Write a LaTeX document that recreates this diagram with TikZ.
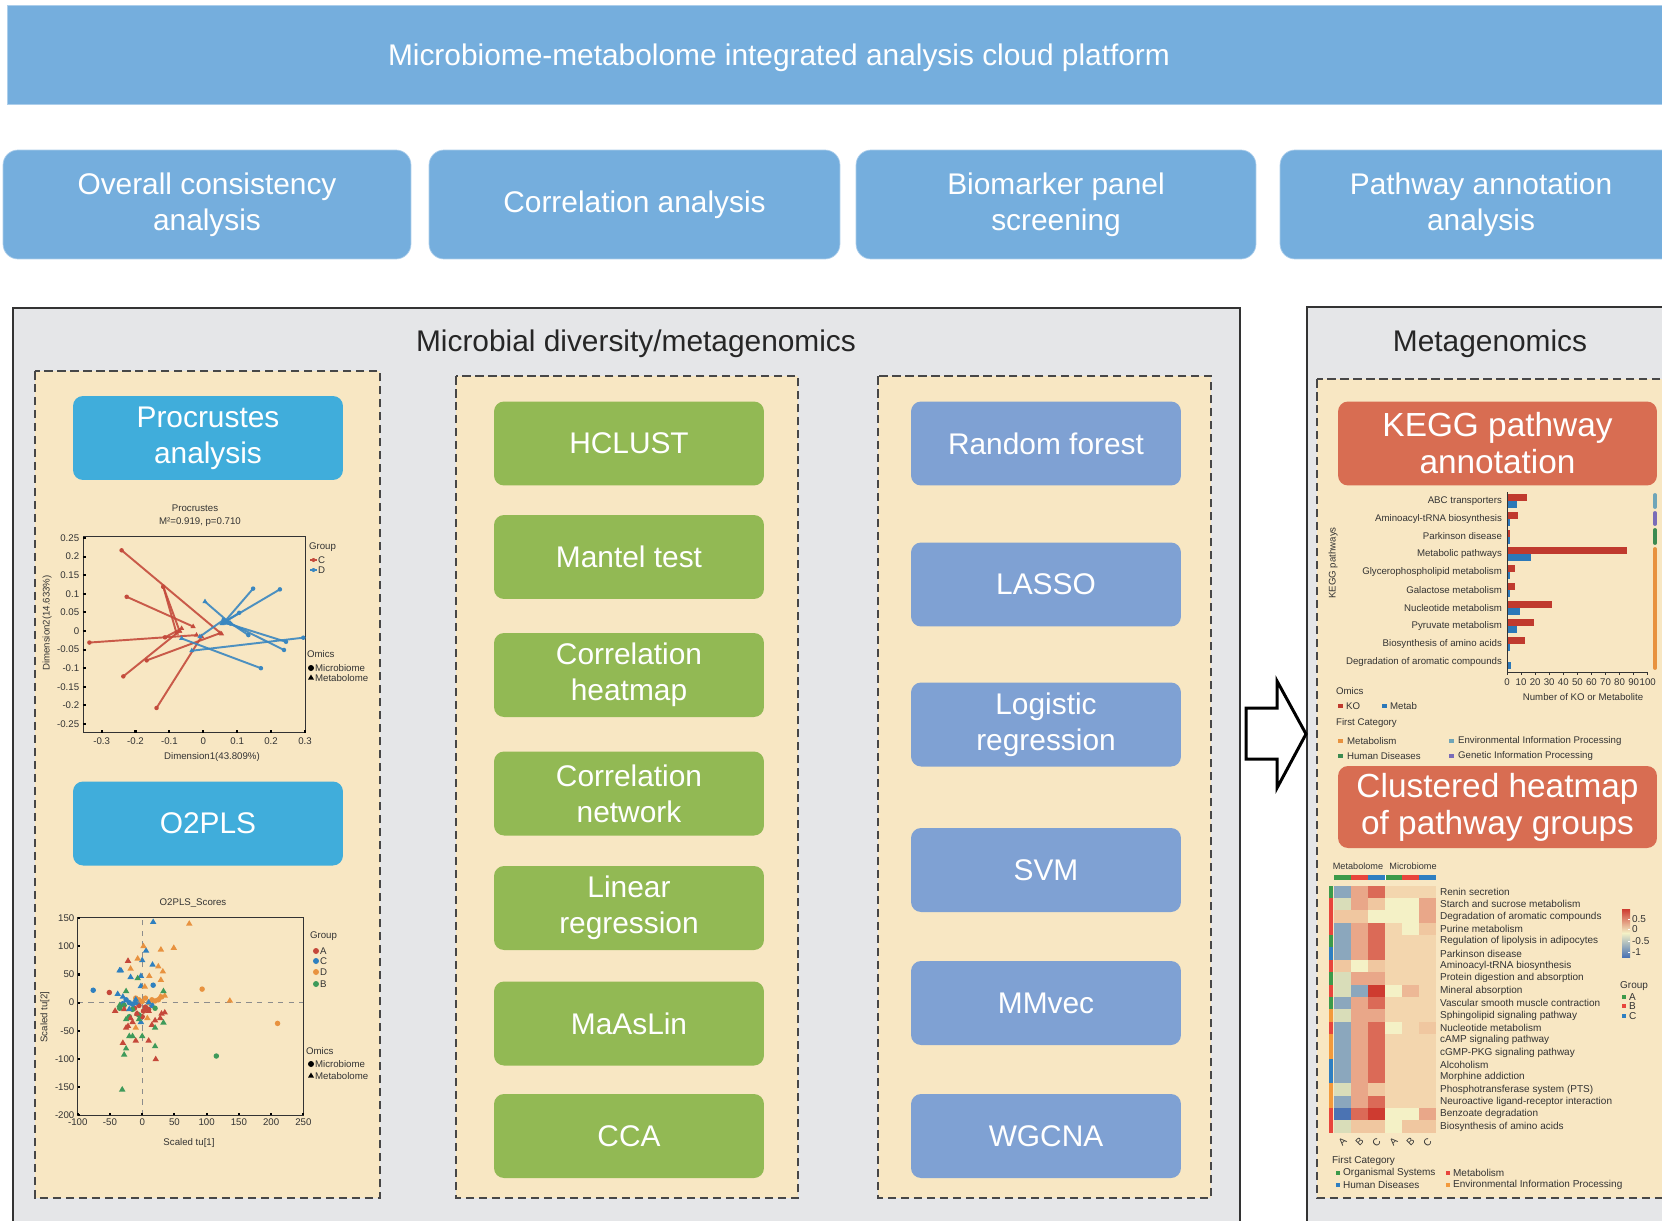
\documentclass[tikz,border=0pt]{standalone}
\usepackage{fontspec}
\setmainfont{Liberation Sans}

\definecolor{skyblue}{HTML}{75AEDD}
\definecolor{panelgray}{HTML}{E5E6E8}
\definecolor{panelline}{HTML}{333333}
\definecolor{sand}{HTML}{F8E7C3}
\definecolor{cyanbox}{HTML}{40ADDB}
\definecolor{leaf}{HTML}{92B954}
\definecolor{lavender}{HTML}{7FA1D3}
\definecolor{brick}{HTML}{D86D52}
\definecolor{plottext}{HTML}{333333}
\definecolor{pC}{HTML}{C44B3C}
\definecolor{pD}{HTML}{3A87C0}
\definecolor{oA}{HTML}{C5483A}
\definecolor{oB}{HTML}{3E9A5A}
\definecolor{oC}{HTML}{2F80BF}
\definecolor{oD}{HTML}{E8923F}
\definecolor{ko}{HTML}{C03A2E}
\definecolor{metab}{HTML}{2C78B8}
\definecolor{kmet}{HTML}{E8923F}
\definecolor{kenv}{HTML}{6FA5B8}
\definecolor{khum}{HTML}{3C8A50}
\definecolor{kgen}{HTML}{7A6CB8}
\definecolor{catog}{HTML}{3C9A4A}
\definecolor{catme}{HTML}{E8453C}
\definecolor{cathd}{HTML}{2F7FC1}
\definecolor{caten}{HTML}{F39A3C}
\definecolor{hmb}{HTML}{8BA7BD}
\definecolor{hmB}{HTML}{4B73B3}
\definecolor{hmg}{HTML}{D9DDB9}
\definecolor{hmy}{HTML}{F4F1C6}
\definecolor{hmp}{HTML}{F0C7A0}
\definecolor{hmq}{HTML}{E9A789}
\definecolor{hmr}{HTML}{DB6A57}
\definecolor{hmR}{HTML}{CE3B30}
\definecolor{hmn}{HTML}{F3D6AE}
\definecolor{hms}{HTML}{EDB896}

\begin{document}
\begin{tikzpicture}[x=0.02cm, y=-0.02cm,
    tile/.style={rounded corners=0.2cm, inner sep=0pt, text=white, align=center,
                 minimum width=5.4cm, minimum height=1.68cm, font=\fontsize{17}{20.5}\selectfont},
    toptile/.style={tile, fill=skyblue, draw=skyblue!60!white, rounded corners=0.3cm, minimum height=2.18cm},
    cyantile/.style={tile, fill=cyanbox},
    greentile/.style={tile, fill=leaf},
    lavtile/.style={tile, fill=lavender},
    bricktile/.style={tile, fill=brick, minimum width=6.38cm, font=\fontsize{19}{21}\selectfont},
    panel/.style={fill=panelgray, draw=panelline, line width=1.6pt},
    column/.style={fill=sand, draw=panelline!90, line width=1.5pt, dash pattern=on 0.17cm off 0.09cm},
    heading/.style={font=\fontsize{17}{20}\selectfont, text=black!85},
    tiny/.style={font=\fontsize{5.5}{6.5}\selectfont, text=plottext, inner sep=1pt},
    hmtext/.style={font=\fontsize{5.7}{6.5}\selectfont, text=plottext, inner sep=1pt},
    axisline/.style={draw=black!80, line width=0.5pt}]
\clip (0,0) rectangle (1662,1220);
\fill[white] (0,0) rectangle (1662,1220);

\node[toptile, rounded corners=0pt, minimum width=33.46cm, minimum height=1.98cm] (platform) at (843.5,54.5) {};
\node[heading, text=white] (platformtext) at (779,58) {Microbiome-metabolome integrated analysis cloud platform};

\node[toptile, minimum width=8.16cm] (overall) at (207,204.5) {Overall consistency\\analysis};
\node[toptile, minimum width=8.22cm] (correlation) at (634.5,204.5) {Correlation analysis};
\node[toptile, minimum width=8cm] (biomarker) at (1056,204.5) {Biomarker panel\\screening};
\node[toptile, minimum width=8.04cm] (pathway) at (1481,204.5) {Pathway annotation\\analysis};

\draw[panel] (13,308) rectangle (1240,1240);
\draw[panel] (1307,307) rectangle (1690,1240);
\node[heading] (microtitle) at (636,344) {Microbial diversity/metagenomics};
\node[heading] (metatitle) at (1490,344) {Metagenomics};

\draw[column] (35,371) rectangle (380,1198);
\draw[column] (456,376) rectangle (798,1198);
\draw[column] (878,376) rectangle (1211,1198);
\draw[column] (1317,379) rectangle (1690,1198);

\node[cyantile] (procrustes) at (208,438) {Procrustes\\analysis};
\node[cyantile] (otwopls) at (208,823.5) {O2PLS};

\node[greentile] (hclust) at (629,443.5) {HCLUST};
\node[greentile] (mantel) at (629,557) {Mantel test};
\node[greentile] (corrheat) at (629,675) {Correlation\\heatmap};
\node[greentile] (corrnet) at (629,793.5) {Correlation\\network};
\node[greentile] (linreg) at (629,908) {Linear\\regression};
\node[greentile] (maaslin) at (629,1023.5) {MaAsLin};
\node[greentile] (cca) at (629,1136) {CCA};

\node[lavtile] (forest) at (1046,443.5) {Random forest};
\node[lavtile] (lasso) at (1046,584.5) {LASSO};
\node[lavtile] (logistic) at (1046,724.5) {Logistic\\regression};
\node[lavtile] (svm) at (1046,870) {SVM};
\node[lavtile] (mmvec) at (1046,1003) {MMvec};
\node[lavtile] (wgcna) at (1046,1136) {WGCNA};

\node[bricktile] (kegg) at (1497.5,443.5) {KEGG pathway\\annotation};
\node[bricktile, minimum height=1.64cm] (clustheat) at (1497.5,807) {Clustered heatmap\\of pathway groups};

\draw[fill=white, line width=1.7pt, line join=miter] (1246,708) -- (1277,708) -- (1277,681) -- (1306,734)
  -- (1277,788) -- (1277,759) -- (1246,759) -- cycle;

% Procrustes
\node[tiny] (prtitle) at (195,508) {Procrustes};
\node[tiny] (prstat) at (200,522) {M²=0.919, p=0.710};
\begin{scope}[shift={(203.3,631)}, x=6.78cm, y=7.44cm]
  \draw[axisline] (-0.355,-0.274) rectangle (0.3,0.253);
  \foreach \v [count=\k] in {0.25,0.2,0.15,0.1,0.05,0,-0.05,-0.1,-0.15,-0.2,-0.25} {
    \draw[line width=1.2pt] (-0.355,\v) -- ++(0.008,0);
    \node[tiny, anchor=east] (pry\k) at (-0.36,\v) {\v};}
  \foreach \v [count=\k] in {-0.3,-0.2,-0.1,0,0.1,0.2,0.3} {
    \draw[line width=1.2pt] (\v,-0.274) -- ++(0,0.008);
    \node[tiny, anchor=north] (prx\k) at (\v,-0.28) {\v};}
  \foreach \ax/\ay/\bx/\by/\c in {
    -0.241/0.217/0.054/-0.008/pC, -0.118/0.119/-0.079/-0.006/pC, -0.226/0.092/-0.030/0.012/pC,
    -0.336/-0.031/-0.020/-0.011/pC, -0.236/-0.122/-0.070/0.000/pC, -0.167/-0.079/0.049/-0.006/pC,
    -0.138/-0.207/-0.005/-0.015/pC, -0.113/-0.017/-0.064/0.007/pC, -0.118/0.119/-0.070/0.000/pC,
    0.147/0.114/0.059/0.021/pD, 0.226/0.112/0.064/0.025/pD, 0.106/0.049/0.055/0.020/pD,
    0.295/-0.018/-0.034/-0.053/pD, 0.244/-0.029/0.069/0.021/pD, 0.238/-0.051/0.079/0.021/pD,
    0.133/-0.011/0.074/0.025/pD, 0.170/-0.100/-0.064/-0.020/pD, 0.080/0.020/0.005/0.079/pD,
    0.060/0.030/-0.010/-0.015/pD} {
    \draw[\c, line width=1.1pt, opacity=0.9] (\ax,\ay) -- (\bx,\by);
    \fill[\c] (\ax,\ay) circle (0.045cm);
    \fill[\c] (\bx,\by) ++(0,0.06cm) -- ++(-0.052cm,-0.09cm) -- ++(0.104cm,0) -- cycle;}
\end{scope}
\node[tiny, rotate=90] (prylab) at (47,623) {Dimension2(14.633\%)};
\node[tiny] (prxlab) at (212,757) {Dimension1(43.809\%)};
\node[tiny, anchor=west] (prgroup) at (307,547) {Group};
\draw[pC, line width=1pt] (310,560) -- (317,560); \fill[pC] (313.5,560) circle (0.04cm);
\node[tiny, anchor=west] (prc) at (316,560) {C};
\draw[pD, line width=1pt] (310,570) -- (317,570); \fill[pD] (313.5,570) circle (0.04cm);
\node[tiny, anchor=west] (prd) at (316,570) {D};
\node[tiny, anchor=west] (promics) at (305,654) {Omics};
\fill[black] (311,668) circle (0.06cm);
\node[tiny, anchor=west] (prmic) at (313,668) {Microbiome};
\fill[black] (311,678) ++(0,0.07cm) -- ++(-0.06cm,-0.1cm) -- ++(0.12cm,0) -- cycle;
\node[tiny, anchor=west] (prmet) at (313,678) {Metabolome};

% O2PLS
\node[tiny] (optitle) at (193,903) {O2PLS\_Scores};
\begin{scope}[shift={(142.2,1002.6)}, x=0.0129cm, y=0.01124cm]
  \draw[black!45, dashed, line width=0.6pt] (0,-200) -- (0,152) (-100,0) -- (250,0);
  \draw[axisline] (-100,-200) rectangle (250,152);
  \foreach \v [count=\k] in {150,100,50,0,-50,-100,-150,-200} {
    \draw[line width=1.2pt] (-100,\v) -- ++(3,0);
    \node[tiny, anchor=east] (opy\k) at (-102,\v) {\v};}
  \foreach \v [count=\k] in {-100,-50,0,50,100,150,200,250} {
    \draw[line width=1.2pt] (\v,-200) -- ++(0,3);
    \node[tiny, anchor=north] (opx\k) at (\v,-203) {\v};}
  \foreach \px/\py/\c in {
    -51/18/oA, -5/-5/oA, 2/-15/oA, -8/-20/oA, 5/-8/oA, 0/-25/oA, 10/-12/oA, -12/-10/oA,
    -76/22/oC, -30/-2/oC, -20/0/oC, -10/0/oC, -25/5/oC, -15/-3/oC, -5/3/oC, 15/-5/oC, 17/31/oC,
    93/24/oD, 210/-37/oD, -5/5/oD, 5/8/oD, 15/5/oD, 25/5/oD, 30/10/oD, 20/3/oD, -10/8/oD, 0/2/oD, 10/0/oD,
    115/-95/oB, -35/-10/oB, -28/-5/oB, -15/-12/oB, -5/-22/oB, 20/-10/oB, -20/-25/oB}
    \fill[\c] (\px,\py) circle (0.055cm);
  \foreach \px/\py/\c in {
    -22/74/oA, -42/-15/oA, -28/-12/oA, -18/-28/oA, -22/-42/oA, -15/-35/oA, -8/-20/oA, 10/-15/oA,
    -30/-72/oA, -10/-68/oA, 10/-68/oA, 21/-101/oA, 20/-32/oA, 28/-28/oA, 30/-20/oA, 35/-18/oA,
    -25/-45/oA, 5/-12/oA, 15/-40/oA,
    17/143/oC, 6/92/oC, 0/75/oC, -35/57/oC, -33/57/oC, -18/45/oC, 16/67/oC, -2/47/oC, -2/29/oC,
    -38/15/oC, -30/10/oC, -20/-12/oC, -2/-35/oC, 10/0/oC, -10/5/oC,
    73/140/oD, 49/97/oD, 29/94/oD, 2/100/oD, -7/78/oD, -18/60/oD, 25/64/oD, 32/55/oD, 11/47/oD,
    29/40/oD, 4/28/oD, 136/3/oD, 28/10/oD, 35/12/oD, -10/-45/oD, 8/-28/oD,
    -31/-155/oB, -28/-93/oB, -25/-82/oB, -20/-60/oB, -15/-60/oB, 0/-60/oB, 20/-78/oB, 33/-36/oB,
    20/-45/oB, 33/20/oB, -25/20/oB, -7/43/oB, -35/-5/oB, -25/-30/oB, -5/-30/oB}
    \fill[\c] (\px,\py) ++(0,0.075cm) -- ++(-0.065cm,-0.11cm) -- ++(0.13cm,0) -- cycle;
\end{scope}
\node[tiny, rotate=90] (opylab) at (45,1017) {Scaled tu[2]};
\node[tiny] (opxlab) at (189,1143) {Scaled tu[1]};
\node[tiny, anchor=west] (opgroup) at (308,936) {Group};
\foreach \g/\c/\yy in {A/oA/951, C/oC/961, D/oD/972, B/oB/984} {
  \fill[\c] (316,\yy) circle (0.06cm);
  \node[tiny, anchor=west] (opg\g) at (318,\yy) {\g};}
\node[tiny, anchor=west] (opomics) at (304,1051) {Omics};
\fill[black] (311,1064) circle (0.06cm);
\node[tiny, anchor=west] (opmic) at (313,1064) {Microbiome};
\fill[black] (311,1076) ++(0,0.07cm) -- ++(-0.06cm,-0.1cm) -- ++(0.12cm,0) -- cycle;
\node[tiny, anchor=west] (opmet) at (313,1076) {Metabolome};

% KEGG bars
\foreach \lab/\k/\m [count=\i from 0] in {ABC transporters/14/7, Aminoacyl-tRNA biosynthesis/8/2,
    Parkinson disease/2/2, Metabolic pathways/85/17, Glycerophospholipid metabolism/6/2,
    Galactose metabolism/6/2, Nucleotide metabolism/32/9, Pyruvate metabolism/19/7,
    Biosynthesis of amino acids/13/2, Degradation of aromatic compounds/1/3} {
  \pgfmathsetmacro\yy{500.7+17.9*\i}
  \fill[ko] (1507,\yy-7) rectangle (1507+1.407*\k,\yy);
  \fill[metab] (1507,\yy) rectangle (1507+1.407*\m,\yy+7);
  \node[tiny, anchor=east] (kpath\i) at (1504,\yy) {\lab};}
\draw[axisline] (1507,492) -- (1507,672) -- (1648,672);
\foreach \t [count=\k] in {0,10,...,100} {
  \draw[axisline] (1507+1.407*\t,672) -- ++(0,2.5);
  \node[tiny] (kx\k) at (1507+1.407*\t,682) {\t};}
\node[tiny] (kxlab) at (1583,697) {Number of KO or Metabolite};
\node[tiny, rotate=90] (kylab) at (1333,563) {KEGG pathways};
\foreach \c/\ya/\yb in {kenv/495/507, kgen/513/524, khum/530/543, kmet/549/668}
  \draw[\c, line width=2.2pt, line cap=round] (1655,\ya) -- (1655,\yb);
\node[tiny, anchor=west] (komics) at (1334,691) {Omics};
\fill[ko] (1338,704) rectangle (1343,708);
\node[tiny, anchor=west] (kko) at (1344,706) {KO};
\fill[metab] (1382,704) rectangle (1387,708);
\node[tiny, anchor=west] (kmetab) at (1388,706) {Metab};
\node[tiny, anchor=west] (kfirst) at (1334,723) {First Category};
\foreach \c/\xx/\yy/\lab [count=\i] in {kmet/1338/741/Metabolism, kenv/1449/741/Environmental Information Processing,
    khum/1338/756/Human Diseases, kgen/1449/756/Genetic Information Processing} {
  \fill[\c] (\xx,\yy-2) rectangle (\xx+5,\yy+2);
  \node[tiny, anchor=west] (kcat\i) at (\xx+7,\yy) {\lab};}

% clustered heatmap
\node[hmtext, font=\fontsize{5.2}{6}\selectfont] (hmmetab) at (1358,866) {Metabolome};
\node[hmtext, font=\fontsize{5.2}{6}\selectfont] (hmmicro) at (1413,866) {Microbiome};
\foreach \c [count=\j from 0] in {og,me,hd,og,me,hd}
  \fill[cat\c] (1334+17*\j,875) rectangle ++(17,5);
\foreach \row [count=\i from 0] in {{b,q,r,n,n,n},{g,q,p,y,y,q},{p,p,y,y,y,q},{b,q,r,n,y,p},
    {b,q,r,n,n,n},{b,q,r,n,n,n},{p,y,p,n,n,n},{g,q,q,n,n,n},{g,b,R,y,s,n},{b,q,r,n,n,n},
    {g,q,q,n,n,n},{b,q,r,y,n,p},{b,q,r,n,n,n},{b,q,r,n,n,n},{b,q,r,n,n,n},{b,q,r,n,n,n},
    {g,q,p,n,n,n},{b,q,r,n,n,n},{B,r,R,y,y,q},{g,p,p,y,p,p}}
  \foreach \c [count=\j from 0] in \row
    \fill[hm\c] (1334+17*\j,885.7+12.35*\i) rectangle ++(17,12.35);
\draw[white, line width=0.4pt] (1385,875) -- (1385,880);
\foreach \c/\lab [count=\i from 0] in {og/Renin secretion, me/Starch and sucrose metabolism,
    me/Degradation of aromatic compounds, me/Purine metabolism, og/Regulation of lipolysis in adipocytes,
    hd/Parkinson disease, me/Aminoacyl-tRNA biosynthesis, og/Protein digestion and absorption,
    me/Mineral absorption, og/Vascular smooth muscle contraction, en/Sphingolipid signaling pathway,
    me/Nucleotide metabolism, en/cAMP signaling pathway, en/cGMP-PKG signaling pathway,
    hd/Alcoholism, hd/Morphine addiction, en/Phosphotransferase system (PTS),
    en/Neuroactive ligand-receptor interaction, me/Benzoate degradation, me/Biosynthesis of amino acids} {
  \fill[cat\c] (1329,885.7+12.35*\i) rectangle ++(4,12.35);
  \node[hmtext, anchor=west] (hmrow\i) at (1438,891.9+12.35*\i) {\lab};}
\foreach \l [count=\j from 0] in {A,B,C,A,B,C}
  \node[hmtext, rotate=45] (hmcol\j) at (1342.5+17*\j,1142) {\l};
\shade[top color=hmR, bottom color=hmB, middle color=hmy] (1622,909) rectangle (1630,957);
\foreach \v/\yy [count=\k] in {0.5/919, 0/929, -0.5/941, -1/952} {
  \draw[white, line width=0.4pt] (1628,\yy) -- (1630,\yy);
  \node[hmtext, anchor=west] (hmkey\k) at (1630,\yy) {\v};}
\node[hmtext, anchor=west] (hmgroup) at (1618,986) {Group};
\foreach \g/\c/\yy in {A/og/997, B/me/1006, C/hd/1016} {
  \fill[cat\c] (1622,\yy-2) rectangle (1626,\yy+2);
  \node[hmtext, anchor=west] (hmg\g) at (1627,\yy) {\g};}
\node[hmtext, anchor=west] (hmfirst) at (1330,1161) {First Category};
\foreach \c/\xx/\yy/\lab [count=\i] in {og/1336/1173/Organismal Systems, me/1446/1173/Metabolism,
    hd/1336/1185/Human Diseases, en/1446/1185/Environmental Information Processing} {
  \fill[cat\c] (\xx,\yy-2) rectangle (\xx+4,\yy+2);
  \node[hmtext, anchor=west] (hmcat\i) at (\xx+5,\yy) {\lab};}
\end{tikzpicture}
\end{document}
